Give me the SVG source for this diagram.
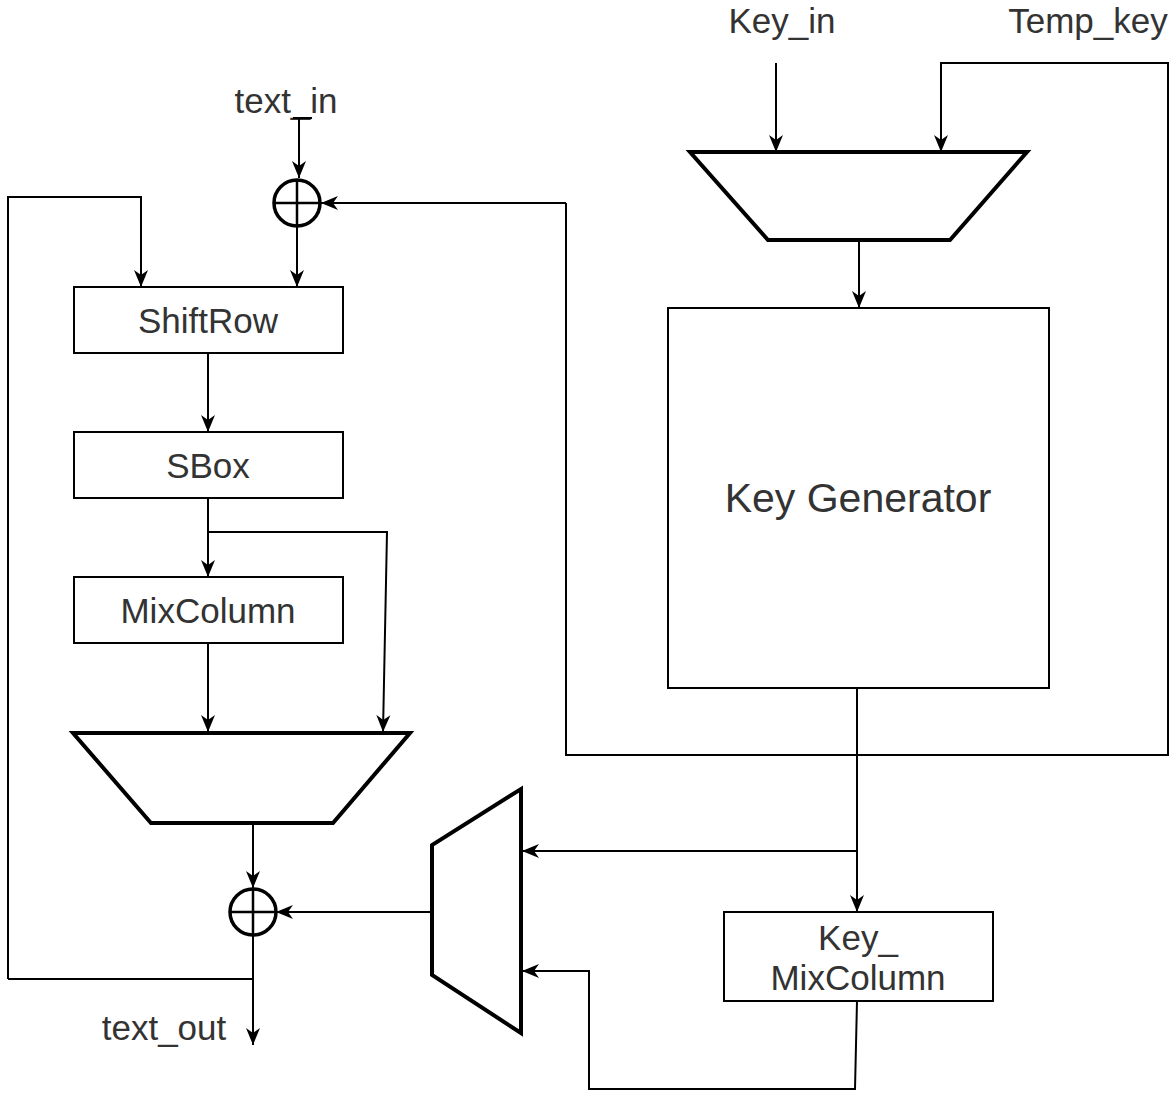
<svg xmlns="http://www.w3.org/2000/svg" width="1171" height="1093" viewBox="0 0 1171 1093">
<style>
.t{font-family:"Liberation Sans",Arial,sans-serif;font-size:35px;fill:#333;text-anchor:middle}
.box{fill:#fff;stroke:#000;stroke-width:2}
.mux{fill:#fff;stroke:#000;stroke-width:4}
.xor{fill:none;stroke:#000;stroke-width:3.5}
.w{fill:none;stroke:#000;stroke-width:2}
</style>
<defs>
<marker id="a" markerUnits="userSpaceOnUse" markerWidth="18" markerHeight="18" viewBox="0 0 18 18" refX="17" refY="9" orient="auto">
<path d="M0,2 L17,9 L0,16 L5,9 z" fill="#000"/>
</marker>
</defs>
<g id="labels">
<text class="t" x="286" y="113">text_in</text>
<text class="t" x="782" y="33">Key_in</text>
<text class="t" x="1088" y="33">Temp_key</text>
<text class="t" x="164" y="1040">text_out</text>
</g>
<g id="connectors">
<path class="w" d="M293,118 H312"/>
<path class="w" d="M299,118 V178" marker-end="url(#a)"/>
<path class="w" d="M566,203 H321" marker-end="url(#a)"/>
<path class="w" d="M297,226 V287" marker-end="url(#a)"/>
<path class="w" d="M8,979 V197 H141 V287" marker-end="url(#a)"/>
<path class="w" d="M208,353 V432" marker-end="url(#a)"/>
<path class="w" d="M208,498 V577" marker-end="url(#a)"/>
<path class="w" d="M208,643 V732" marker-end="url(#a)"/>
<path class="w" d="M208,532 H387 L383,732" marker-end="url(#a)"/>
<path class="w" d="M253,823 V888" marker-end="url(#a)"/>
<path class="w" d="M253,935 V1045" marker-end="url(#a)"/>
<path class="w" d="M8,979 H253"/>
<path class="w" d="M432,912 H276" marker-end="url(#a)"/>
<path class="w" d="M776,63 V152" marker-end="url(#a)"/>
<path class="w" d="M566,203 V755 H1168 V63 H941 V152" marker-end="url(#a)"/>
<path class="w" d="M859,240 V308" marker-end="url(#a)"/>
<path class="w" d="M857,688 V912" marker-end="url(#a)"/>
<path class="w" d="M857,851 H522" marker-end="url(#a)"/>
<path class="w" d="M857,1001 L855,1089 H589 V971 H522" marker-end="url(#a)"/>
</g>
<g id="xor1"><circle class="xor" cx="297" cy="203" r="23"/><path class="xor" d="M274,203 H320 M297,180 V226" style="stroke-width:2.5"/></g>
<g id="xor2"><circle class="xor" cx="253" cy="912" r="23"/><path class="xor" d="M230,912 H276 M253,889 V935" style="stroke-width:2.5"/></g>
<g id="shiftrow"><rect class="box" x="74" y="287" width="269" height="66"/><text class="t" x="208" y="333">ShiftRow</text></g>
<g id="sbox"><rect class="box" x="74" y="432" width="269" height="66"/><text class="t" x="208" y="478">SBox</text></g>
<g id="mixcolumn"><rect class="box" x="74" y="577" width="269" height="66"/><text class="t" x="208" y="623">MixColumn</text></g>
<g id="mux1"><path class="mux" d="M73,733 H410 L333,823 H151 Z"/></g>
<g id="mux-key"><path class="mux" d="M690,152 H1027 L950,240 H768 Z"/></g>
<g id="mux2"><path class="mux" d="M521,789 V1033 L432,975 V845 Z"/></g>
<g id="keygen"><rect class="box" x="668" y="308" width="381" height="380"/><text class="t" x="858" y="512" style="font-size:41px">Key Generator</text></g>
<g id="key-mixcolumn"><rect class="box" x="724" y="912" width="269" height="89"/><text class="t" x="858" y="950">Key_</text><text class="t" x="858" y="990">MixColumn</text></g>
</svg>
